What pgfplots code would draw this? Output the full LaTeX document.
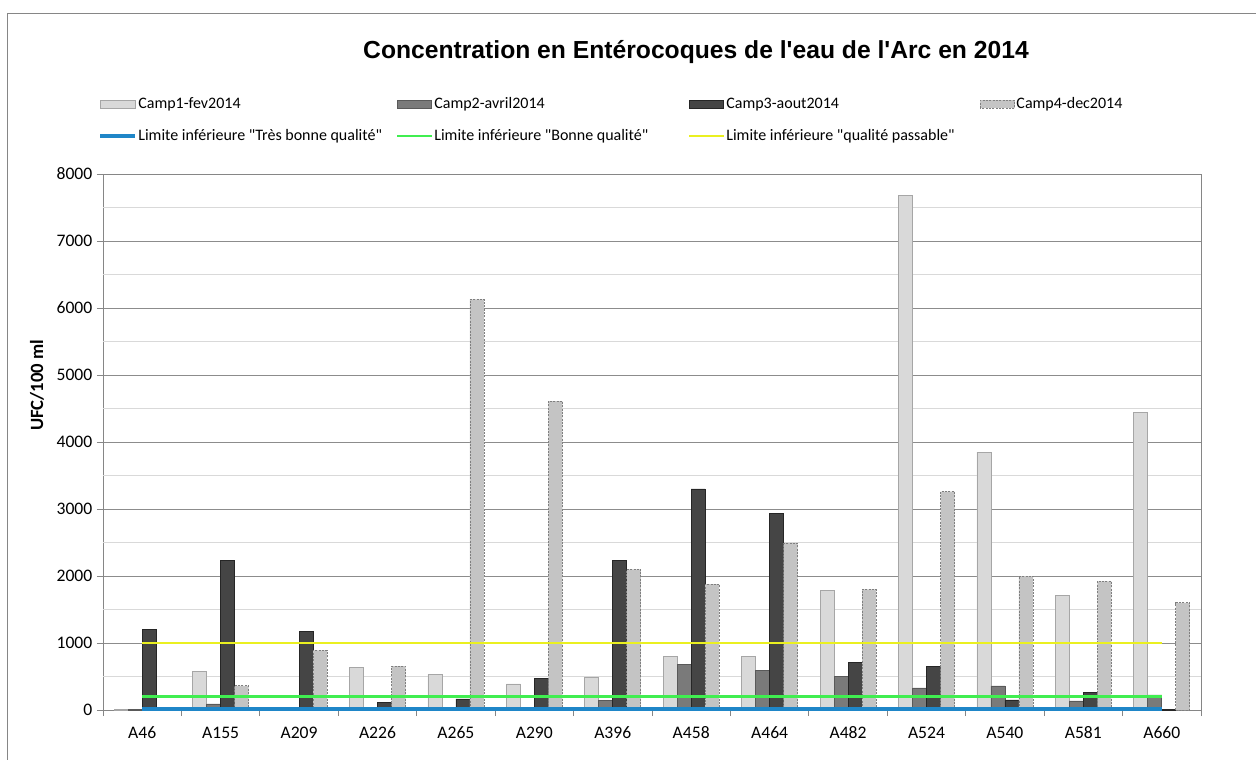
\documentclass[border=0pt]{standalone}
\usepackage{fontspec}
\setmainfont{Carlito}
\newfontfamily\legfont{Carlito}
\newfontfamily\titlefont{Liberation Sans}
\usepackage{pgfplots}
\pgfplotsset{compat=1.18}
\usepackage{pgfplotstable}

\definecolor{campAfill}{HTML}{D9D9D9}
\definecolor{campAdraw}{HTML}{A6A6A6}
\definecolor{campBfill}{HTML}{7A7A7A}
\definecolor{campBdraw}{HTML}{595959}
\definecolor{campCfill}{HTML}{454545}
\definecolor{campCdraw}{HTML}{262626}
\definecolor{campDfill}{HTML}{C4C4C4}
\definecolor{campDdraw}{HTML}{7F7F7F}
\definecolor{gridmajor}{HTML}{8C8C8C}
\definecolor{gridminor}{HTML}{D9D9D9}
\definecolor{axisgrey}{HTML}{868686}
\definecolor{limblue}{HTML}{1F86C8}
\definecolor{limgreen}{HTML}{40EE50}
\definecolor{limyellow}{HTML}{EAF020}

\pgfplotsset{
  campswatch/.style={legend image code/.code={\draw[##1] (0pt,-2.8pt) rectangle (26pt,2.8pt);}},
  limswatch/.style={legend image code/.code={\draw[##1] (0pt,0pt) -- (26pt,0pt);}},
}

% Enterococci counts (UFC/100 ml) per sampling site and campaign
\pgfplotstableread{
idx site camp1 camp2 camp3 camp4
0  A46   5    5    1200 15
1  A155  580  90   2230 360
2  A209  5    5    1170 890
3  A226  630  30   115  655
4  A265  530  5    165  6130
5  A290  390  30   475  4610
6  A396  495  145  2230 2100
7  A458  805  680  3300 1880
8  A464  795  590  2935 2490
9  A482  1790 505  715  1800
10 A524  7680 330  645  3260
11 A540  3850 360  150  2000
12 A581  1710 135  260  1920
13 A660  4440 225  5    1600
}\arcdata

\newcommand{\legtext}[2]{\makebox[#1][l]{#2}}

\begin{document}
\begin{tikzpicture}
\useasboundingbox (0pt,0pt) rectangle (942pt,-570pt);
% chart frame
\draw[axisgrey, line width=0.6pt] (5.25pt,-575pt) -- (5.25pt,-9.75pt) -- (950pt,-9.75pt);
% title
\node[font=\titlefont\bfseries\fontsize{18.5}{21}\selectfont] at (522pt,-39pt)
  {Concentration en Entérocoques de l'eau de l'Arc en 2014};
\begin{axis}[
  scale only axis,
  at={(77.25pt,-532.5pt)}, anchor=south west,
  width=823.5pt, height=402pt,
  xmin=-0.5, xmax=13.5,
  ymin=0, ymax=8000,
  tick pos=left,
  % tick marks sit between the sites, names are moved to the middle of each slot
  xtick={-0.5,0.5,...,13.5},
  xticklabels={A46,A155,A209,A226,A265,A290,A396,A458,A464,A482,A524,A540,A581,A660,{}},
  xticklabel style={font=\fontsize{13.2}{15}\selectfont, anchor=north, text height=9pt, text depth=0pt, xshift=29.4pt, yshift=-4pt},
  ytick={0,1000,...,8000},
  extra y ticks={500,1500,...,7500},
  extra y tick labels={},
  extra y tick style={major tick length=0pt, major grid style={draw=gridminor, line width=0.6pt}},
  tick align=outside,
  major tick length=4.5pt,
  tick style={draw=axisgrey, line width=0.6pt},
  ymajorgrids,
  major grid style={draw=gridmajor, line width=0.6pt},
  axis line style={draw=axisgrey, line width=0.6pt},
  scaled y ticks=false,
  yticklabel style={font=\fontsize{13.2}{15}\selectfont, /pgf/number format/assume math mode=true, /pgf/number format/1000 sep={}},
  ylabel={UFC/100 ml},
  ylabel style={font=\bfseries\fontsize{14}{16}\selectfont, at={(axis description cs:-0.0601,0.606)}, anchor=center},
  legend columns=4,
  legend style={
    draw=none, fill=none, inner sep=0pt, outer sep=0pt,
    at={(axis description cs:-0.004,1.145)}, anchor=north west,
    font=\legfont\fontsize{12}{13.5}\selectfont,
    nodes={inner sep=1pt},
    column sep=0pt, row sep=12pt,
  },
  legend cell align=left,
]
\addplot[ybar, bar width=0.1786, bar shift=-0.2679, fill=campAfill, draw=campAdraw, line width=0.5pt, campswatch]
  table[x=idx, y=camp1] {\arcdata};
\addplot[ybar, bar width=0.1786, bar shift=-0.0893, fill=campBfill, draw=campBdraw, line width=0.5pt, campswatch]
  table[x=idx, y=camp2] {\arcdata};
\addplot[ybar, bar width=0.1786, bar shift=0.0893, fill=campCfill, draw=campCdraw, line width=0.5pt, campswatch]
  table[x=idx, y=camp3] {\arcdata};
\addplot[ybar, bar width=0.1786, bar shift=0.2679, fill=campDfill, draw=campDdraw, line width=0.6pt, dash pattern=on 1.5pt off 1pt, campswatch]
  table[x=idx, y=camp4] {\arcdata};
% quality class thresholds
\addplot[sharp plot, no marks, draw=limblue, line width=2.8pt, limswatch]
  coordinates {(0,20) (1,20) (2,20) (3,20) (4,20) (5,20) (6,20) (7,20) (8,20) (9,20) (10,20) (11,20) (12,20) (13,20)};
\addplot[sharp plot, no marks, draw=limgreen, line width=2pt, limswatch]
  coordinates {(0,200) (1,200) (2,200) (3,200) (4,200) (5,200) (6,200) (7,200) (8,200) (9,200) (10,200) (11,200) (12,200) (13,200)};
\addplot[sharp plot, no marks, draw=limyellow, line width=2pt, limswatch]
  coordinates {(0,1000) (1,1000) (2,1000) (3,1000) (4,1000) (5,1000) (6,1000) (7,1000) (8,1000) (9,1000) (10,1000) (11,1000) (12,1000) (13,1000)};
\legend{
  \legtext{192pt}{Camp1-fev2014},
  \legtext{189pt}{Camp2-avril2014},
  \legtext{189pt}{Camp3-aout2014},
  Camp4-dec2014,
  \legtext{192pt}{Limite inférieure "Très bonne qualité"},
  \legtext{189pt}{Limite inférieure "Bonne qualité"},
  \legtext{189pt}{Limite inférieure "qualité passable"}
}
\end{axis}
\end{tikzpicture}
\end{document}
